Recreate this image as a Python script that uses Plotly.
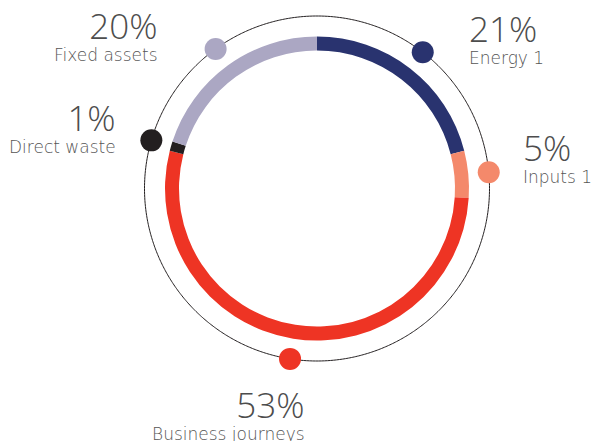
import math
import plotly.graph_objects as go

# ---- data ----
categories = ["Energy 1", "Inputs 1", "Business journeys", "Direct waste", "Fixed assets"]
values = [21, 5, 53, 1, 20]
colors = ["#29336F", "#F4896B", "#EE3424", "#231F20", "#ABA7C3"]

# ---- style / layout constants ----
W, H = 592, 441
CX, CY = 317, 188.5          # centre of the chart in pixels
R_RANGE = 180                # radial axis range -> pixels
RING_OUT, RING_W = 152, 14
OUT_R = 172.5
DOT_SIZE = 22
TEXT_COLOR = "#555555"
NAME_FONT = "'DejaVu Sans', sans-serif"
PCT_STYLE = "font-size:35px;font-family:'Open Sans',sans-serif;font-weight:300;fill:#4D4D4D"
# per-label placement relative to its dot (pixels): (side, xshift, yshift of box bottom)
label_style = [
    ("left", 44, -18),
    ("left", 32, -17),
    ("right", 17, -87),
    ("right", -33, -19),
    ("right", -56, -18),
]

total = sum(values)
widths = [v / total * 360 for v in values]
mids = []
acc = 0
for w in widths:
    mids.append(acc + w / 2)
    acc += w

fig = go.Figure()

# ring segments
fig.add_trace(go.Barpolar(
    theta=mids, width=widths, r=[RING_W] * len(values), base=[RING_OUT - RING_W] * len(values),
    marker=dict(color=colors, line=dict(width=0)), hoverinfo="skip", showlegend=False,
))

# thin outer circle
circ_t = [i * 0.5 for i in range(721)]
fig.add_trace(go.Scatterpolar(
    theta=circ_t, r=[OUT_R] * len(circ_t), mode="lines",
    line=dict(color="#231F20", width=1), hoverinfo="skip", showlegend=False,
))

# dots
fig.add_trace(go.Scatterpolar(
    theta=mids, r=[OUT_R] * len(mids), mode="markers",
    marker=dict(size=DOT_SIZE, color=colors, line=dict(width=0)),
    cliponaxis=False, hoverinfo="skip", showlegend=False,
))

dom_x = [(CX - R_RANGE) / W, (CX + R_RANGE) / W]
dom_y = [(H - CY - R_RANGE) / H, (H - CY + R_RANGE) / H]

annotations = []
for cat, v, m, st in zip(categories, values, mids, label_style):
    px = CX + OUT_R * math.sin(math.radians(m))
    py = CY - OUT_R * math.cos(math.radians(m))
    side, xs, ys = st
    annotations.append(dict(
        x=px / W, y=(H - py) / H, xref="paper", yref="paper",
        text=f"<span style=\"{PCT_STYLE}\">{v}%</span><br>{cat}",
        showarrow=False, xanchor=side, yanchor="bottom", align=side,
        xshift=xs, yshift=ys,
        font=dict(size=17, color=TEXT_COLOR, family=NAME_FONT, weight=200),
    ))

fig.update_layout(
    width=W, height=H,
    margin=dict(l=0, r=0, t=0, b=0),
    paper_bgcolor="white", plot_bgcolor="white",
    polar=dict(
        domain=dict(x=dom_x, y=dom_y),
        bgcolor="rgba(0,0,0,0)",
        radialaxis=dict(range=[0, R_RANGE], visible=False),
        angularaxis=dict(direction="clockwise", rotation=90, visible=False),
        bargap=0,
    ),
    annotations=annotations,
    showlegend=False,
)

fig.write_html("out.html")
